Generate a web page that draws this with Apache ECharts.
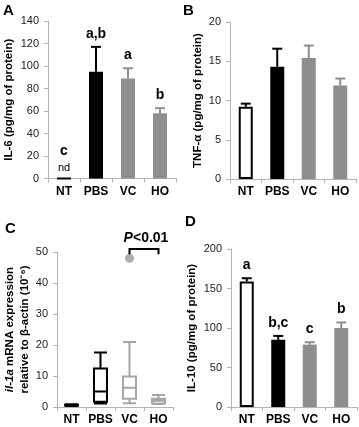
<!DOCTYPE html>
<html>
<head>
<meta charset="utf-8">
<script src="https://cdn.jsdelivr.net/npm/echarts@6/dist/echarts.min.js"></script>
<style>
  html, body { margin: 0; padding: 0; background: #fff; }
  #chart { width: 359px; height: 427px; }
</style>
</head>
<body>
<div id="chart"></div>
<script>
const groups = ['NT', 'PBS', 'VC', 'HO'];

// A: IL-6
const il6Mean = [0, 95, 89, 58];
const il6Err = [0, 22, 9, 4.5];
const il6Letters = ['c', 'a,b', 'a', 'b'];
const il6Notes = ['nd', '', '', ''];

// B: TNF-a
const tnfMean = [9.2, 14.3, 15.4, 11.9];
const tnfErr = [0.4, 2.3, 1.6, 0.9];

// C: il-1a mRNA, [min, Q1, median, Q3, max]
const il1aBox = [
  [0.3, 0.45, 0.6, 0.75, 0.9],
  [1.1, 1.7, 5.0, 12.4, 17.6],
  [1.2, 2.7, 6.2, 9.8, 21.0],
  [1.0, 1.1, 2.0, 2.7, 3.9]
];
const il1aOutliers = [['VC', 48]];
const pBracket = [['VC', 'HO', 51, 49.3, 'P<0.01']];

// D: IL-10
const il10Mean = [159, 85, 79, 100];
const il10Err = [4, 5, 3, 7];
const il10Letters = ['a', 'b,c', 'c', 'b'];

const FONT = "'Liberation Sans', Arial, sans-serif";
const GRAY = '#8e8e8e';
const fills = ['#ffffff', '#000000', GRAY, GRAY];
const edges = ['#000000', '#000000', GRAY, GRAY];
const boxEdges = ['#000000', '#000000', '#a6a6a6', '#a6a6a6'];

const chart = echarts.init(document.getElementById('chart'));

const grids = [
  { left: 48, top: 21, width: 128, height: 157.5 },
  { left: 230, top: 22, width: 126, height: 157 },
  { left: 57, top: 252, width: 116, height: 155 },
  { left: 231, top: 249, width: 126, height: 158 }
];

function xAxisFor(i) {
  return {
    type: 'category', gridIndex: i, data: groups,
    axisLine: { lineStyle: { color: '#b4b4b4', width: 1 } },
    axisTick: { show: true, length: 4, lineStyle: { color: '#b4b4b4' } },
    axisLabel: {
      interval: 0, hideOverlap: false,
      color: '#000', fontFamily: FONT, fontWeight: 'bold', fontSize: 12, margin: 7
    }
  };
}

function yAxisFor(i, max, interval, name, nameGap) {
  return {
    type: 'value', gridIndex: i, min: 0, max: max, interval: interval,
    name: name, nameLocation: 'middle', nameGap: nameGap, nameRotate: 90,
    nameTextStyle: {
      color: '#000', fontFamily: FONT, fontWeight: 'bold', fontSize: 11.5, lineHeight: 15,
      rich: { i: { fontStyle: 'italic', fontWeight: 'bold', fontFamily: FONT, fontSize: 11.5, color: '#000' } }
    },
    axisLine: { show: true, lineStyle: { color: '#b4b4b4', width: 1 } },
    axisTick: { show: true, length: 4, lineStyle: { color: '#b4b4b4' } },
    splitLine: { show: false },
    axisLabel: { color: '#222', fontFamily: FONT, fontSize: 11, margin: 9 }
  };
}

function barSeries(i, means) {
  return {
    type: 'bar', xAxisIndex: i, yAxisIndex: i, barWidth: 14,
    data: means.map((v, k) => ({
      value: v,
      itemStyle: { color: fills[k], borderColor: edges[k], borderWidth: k === 0 ? 2 : 0 }
    })),
    z: 2
  };
}

function errorSeries(i, means, errs, letters, notes) {
  return {
    type: 'custom', xAxisIndex: i, yAxisIndex: i, clip: false, z: 3,
    data: means.map((v, k) => [k, v, errs[k]]),
    renderItem: (params, api) => {
      const k = params.dataIndex;
      const base = api.coord([k, api.value(1)]);
      const top = api.coord([k, api.value(1) + api.value(2)]);
      const children = [];
      if (api.value(2) > 0) {
        children.push({
          type: 'line',
          shape: { x1: base[0], y1: base[1], x2: top[0], y2: top[1] },
          style: { stroke: edges[k], lineWidth: 2 }
        });
        children.push({
          type: 'line',
          shape: { x1: top[0] - 5, y1: top[1], x2: top[0] + 5, y2: top[1] },
          style: { stroke: edges[k], lineWidth: 2 }
        });
      }
      let letterY = top[1] - 6;
      if (notes && notes[k]) {
        children.push({
          type: 'text',
          style: {
            text: notes[k], x: top[0], y: top[1] - 5, align: 'center', verticalAlign: 'bottom',
            fontFamily: FONT, fontSize: 11, fill: '#000'
          }
        });
        letterY = top[1] - 20;
      }
      if (letters && letters[k]) {
        children.push({
          type: 'text',
          style: {
            text: letters[k], x: top[0], y: letterY, align: 'center', verticalAlign: 'bottom',
            fontFamily: FONT, fontWeight: 'bold', fontSize: 14, fill: '#000'
          }
        });
      }
      return { type: 'group', children: children };
    }
  };
}

const panelLabels = [['A', 3, 3], ['B', 183, 3], ['C', 5, 221], ['D', 185, 214]];

chart.setOption({
  animation: false,
  backgroundColor: '#fff',
  grid: grids,
  xAxis: [0, 1, 2, 3].map(xAxisFor),
  yAxis: [
    yAxisFor(0, 140, 20, 'IL-6 (pg/mg of protein)', 25),
    yAxisFor(1, 20, 5, 'TNF-α (pg/mg of protein)', 25),
    yAxisFor(2, 50, 10, '{i|il-1a} mRNA expression\nrelative to β-actin (10⁻⁶)', 18),
    yAxisFor(3, 200, 50, 'IL-10 (pg/mg of protein)', 27)
  ],
  graphic: panelLabels.map(([t, x, y]) => ({
    type: 'text', left: x, top: y,
    style: { text: t, fontFamily: FONT, fontWeight: 'bold', fontSize: 15, fill: '#000' }
  })),
  series: [
    barSeries(0, il6Mean),
    errorSeries(0, il6Mean, il6Err, il6Letters, il6Notes),
    barSeries(1, tnfMean),
    errorSeries(1, tnfMean, tnfErr, null, null),
    {
      type: 'boxplot', xAxisIndex: 2, yAxisIndex: 2, boxWidth: [13, 13],
      data: il1aBox.map((b, k) => ({
        value: b,
        itemStyle: { color: '#fff', borderColor: boxEdges[k], borderWidth: 2 }
      }))
    },
    {
      type: 'scatter', xAxisIndex: 2, yAxisIndex: 2, symbolSize: 9,
      itemStyle: { color: '#9a9a9a' },
      data: il1aOutliers
    },
    {
      type: 'custom', xAxisIndex: 2, yAxisIndex: 2, clip: false, z: 4,
      data: pBracket.map(b => [groups.indexOf(b[0]), groups.indexOf(b[1]), b[2], b[3]]),
      renderItem: (params, api) => {
        const a = api.coord([api.value(0), api.value(2)]);
        const b = api.coord([api.value(1), api.value(2)]);
        const foot = api.coord([api.value(0), api.value(3)]);
        return {
          type: 'group',
          children: [
            {
              type: 'polyline',
              shape: { points: [[a[0], foot[1]], a, b, [b[0], foot[1]]] },
              style: { stroke: '#000', lineWidth: 2, fill: null }
            },
            {
              type: 'text',
              style: {
                text: '{p|P}<0.01', x: (a[0] + b[0]) / 2 + 2, y: a[1] - 4,
                align: 'center', verticalAlign: 'bottom',
                fontFamily: FONT, fontWeight: 'bold', fontSize: 14, fill: '#000',
                rich: { p: { fontStyle: 'italic', fontWeight: 'bold', fontFamily: FONT, fontSize: 14, fill: '#000' } }
              }
            }
          ]
        };
      }
    },
    barSeries(3, il10Mean),
    errorSeries(3, il10Mean, il10Err, il10Letters, null)
  ]
});
</script>
</body>
</html>
